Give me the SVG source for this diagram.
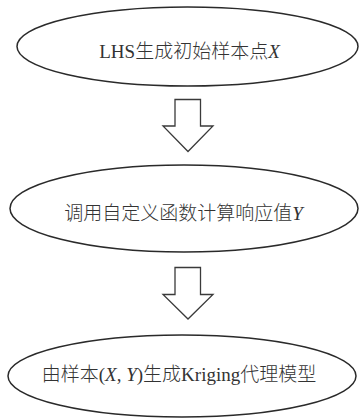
<svg xmlns="http://www.w3.org/2000/svg" width="359" height="418" viewBox="0 0 359 418">
<style>
.node ellipse{fill:#fff;stroke:#2a2a2a;stroke-width:1.5}
.node text{font-family:"Liberation Serif","Noto Sans CJK SC",serif;font-size:19px;font-weight:300;fill:#333;text-anchor:middle}
.it{font-style:italic}
.arrow{fill:#fff;stroke:#3a3a3a;stroke-width:1.3;stroke-linejoin:miter}
</style>
<rect width="359" height="418" fill="#fff"/>
<g id="node1" class="node">
<ellipse cx="187.5" cy="46.5" rx="170.5" ry="39.5"/>
<text x="189.5" y="58">LHS生成初始样本点<tspan class="it">X</tspan></text>
</g>
<g id="node2" class="node">
<ellipse cx="184" cy="208.5" rx="174" ry="43.5"/>
<text x="183.5" y="220">调用自定义函数计算响应值<tspan class="it">Y</tspan></text>
</g>
<g id="node3" class="node">
<ellipse cx="182" cy="376" rx="174" ry="41"/>
<text x="179" y="381">由样本(<tspan class="it">X</tspan>, <tspan class="it">Y</tspan>)生成Kriging代理模型</text>
</g>
<g id="connectors">
<polygon class="arrow" points="175,99.5 200.5,99.5 200.5,126 213,126 188,151.5 163,126 175,126"/>
<polygon class="arrow" points="175,267.5 200.5,267.5 200.5,294.5 213,294.5 188,319 163,294.5 175,294.5"/>
</g>
</svg>
